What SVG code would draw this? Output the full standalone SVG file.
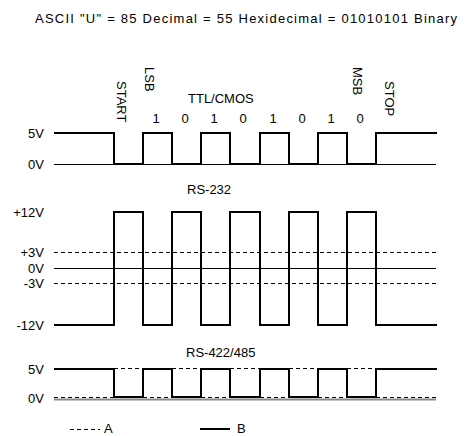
<svg xmlns="http://www.w3.org/2000/svg" width="468" height="436" viewBox="0 0 468 436">
<style>
text{font-family:"Liberation Sans",Arial,sans-serif;font-size:13px;fill:#000}
.lbl{text-anchor:end}
.dig{text-anchor:middle}
.sig{fill:none;stroke:#000;stroke-width:2;stroke-linejoin:miter;stroke-linecap:square}
.thin{fill:none;stroke:#000;stroke-width:1}
.dash{fill:none;stroke:#000;stroke-width:1;stroke-dasharray:4 3}
.grey{fill:none;stroke:#8a8a8a;stroke-width:2}
</style>
<rect width="468" height="436" fill="#fff"/>
<g id="title"><text x="35" y="23" textLength="422" lengthAdjust="spacing">ASCII "U" = 85 Decimal = 55 Hexidecimal = 01010101 Binary</text></g>
<g id="ttl">
<text x="188" y="103">TTL/CMOS</text>
<text class="lbl" x="44" y="138">5V</text>
<text class="lbl" x="44" y="169">0V</text>
<text transform="translate(117,81) rotate(90)">START</text>
<text transform="translate(145,67) rotate(90)">LSB</text>
<text transform="translate(353,67) rotate(90)">MSB</text>
<text transform="translate(385,81) rotate(90)">STOP</text>
<text class="dig" x="156" y="123">1</text>
<text class="dig" x="185" y="123">0</text>
<text class="dig" x="214" y="123">1</text>
<text class="dig" x="243" y="123">0</text>
<text class="dig" x="273" y="123">1</text>
<text class="dig" x="302" y="123">0</text>
<text class="dig" x="331" y="123">1</text>
<text class="dig" x="360" y="123">0</text>
</g>
<g id="rs232">
<text x="187" y="194">RS-232</text>
<text class="lbl" x="44" y="217">+12V</text>
<text class="lbl" x="44" y="257">+3V</text>
<text class="lbl" x="44" y="273">0V</text>
<text class="lbl" x="44" y="288">-3V</text>
<text class="lbl" x="44" y="330">-12V</text>
</g>
<g id="rs422">
<text x="186" y="357">RS-422/485</text>
<text class="lbl" x="44" y="374">5V</text>
<text class="lbl" x="44" y="403">0V</text>
</g>
<g id="legend">
<line class="dash" x1="70" y1="429.5" x2="100" y2="429.5" stroke-dasharray="2 1"/>
<text x="104" y="433" font-size="12">A</text>
<line class="sig" x1="201" y1="429" x2="229" y2="429"/>
<text x="237" y="433" font-size="12">B</text>
</g>
<g id="connectors">
<line class="thin" x1="54" y1="164.5" x2="436" y2="164.5"/>
<path class="sig" d="M55,133 H114 V164 H143 V133 H172 V164 H201 V133 H230 V164 H260 V133 H289 V164 H318 V133 H347 V164 H376 V133 H436"/>
<line class="dash" x1="54" y1="252.5" x2="436" y2="252.5"/>
<line class="thin" x1="54" y1="268.5" x2="436" y2="268.5"/>
<line class="dash" x1="54" y1="283.5" x2="436" y2="283.5"/>
<path class="sig" d="M55,325 H114 V212 H143 V325 H172 V212 H201 V325 H230 V212 H260 V325 H289 V212 H318 V325 H347 V212 H376 V325 H436"/>
<line class="grey" x1="54" y1="399.5" x2="436" y2="399.5"/>
<path class="dash" d="M54,397.5 H114 M143,397.5 H172 M201,397.5 H230 M260,397.5 H289 M318,397.5 H347 M376,397.5 H436 M114,368.5 H143 M172,368.5 H201 M230,368.5 H260 M289,368.5 H318 M347,368.5 H376"/>
<path class="sig" d="M55,369 H114 V397 H143 V369 H172 V397 H201 V369 H230 V397 H260 V369 H289 V397 H318 V369 H347 V397 H376 V369 H436"/>
</g>
</svg>
